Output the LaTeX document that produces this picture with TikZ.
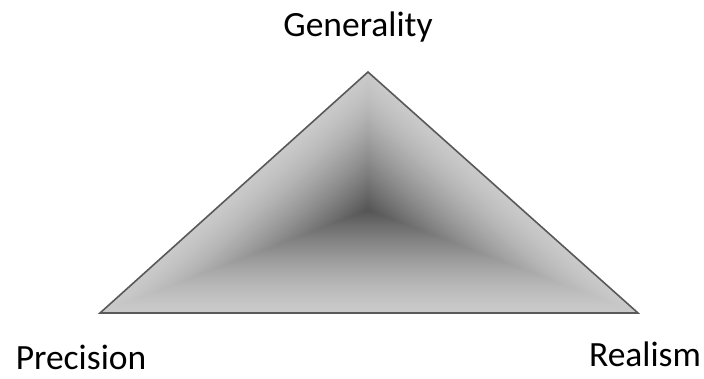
\documentclass[tikz,border=0pt]{standalone}
\usepackage{fontspec}
\setmainfont{Carlito}
\usepackage{tikz}
\usetikzlibrary{calc}

\tikzset{corner label/.style={anchor=base,inner sep=0pt,font=\fontsize{35.5}{42}\selectfont}}

\begin{document}
\begin{tikzpicture}[x=1pt,y=-1pt]
	\useasboundingbox (0,0) rectangle (704,379);
	\coordinate (apex) at (368,72);
	\coordinate (left) at (100,313);
	\coordinate (right) at (638,313);
	\coordinate (ctr) at (368,210);
	% path gradient: nested triangles shrinking towards the dark centre
	\foreach \i in {0,...,99}{
		\pgfmathsetmacro{\s}{1-\i/100}
		\pgfmathsetmacro{\pct}{21+46*(\i/100)^1.4}
		\fill[black!\pct!white] ($(ctr)!\s!(apex)$) -- ($(ctr)!\s!(left)$) -- ($(ctr)!\s!(right)$) -- cycle;
	}
	\draw[line width=1.6pt,black!65,line join=miter] (apex) -- (left) -- (right) -- cycle;
	\node[corner label] (gen) at (358,37) {Generality};
	\node[corner label] (prec) at (81,369) {Precision};
	\node[corner label] (real) at (645,366) {Realism};
\end{tikzpicture}
\end{document}
